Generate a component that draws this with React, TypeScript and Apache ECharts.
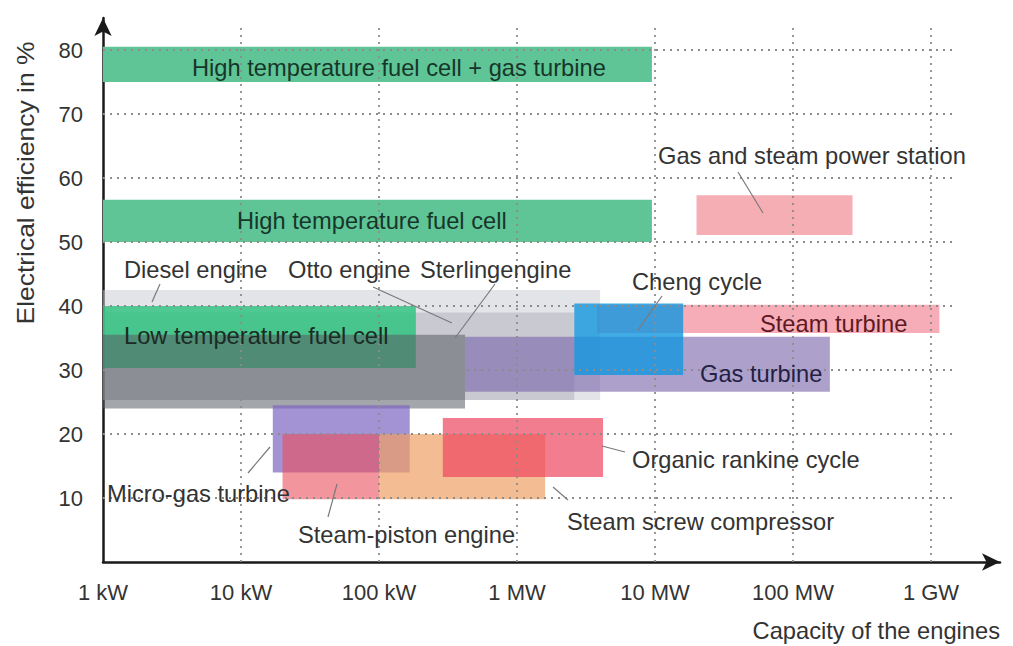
import React, { useEffect, useRef } from "react";
import * as echarts from "echarts";

// Technologies (drawing order, bottom to top)
const techNames = [
  "Diesel engine",
  "Otto engine",
  "Low temperature fuel cell",
  "Sterling engine",
  "Gas turbine",
  "Steam turbine",
  "Cheng cycle",
  "High temperature fuel cell + gas turbine",
  "High temperature fuel cell",
  "Gas and steam power station",
  "Micro-gas turbine",
  "Steam-piston engine",
  "Steam screw compressor",
  "Organic rankine cycle",
];
// capacity range in kW
const capMinKW = [1, 1, 1, 1, 420, 3800, 2600, 1, 1, 20000, 17, 20, 100, 290];
const capMaxKW = [4000, 2600, 185, 420, 185000, 1150000, 16000, 9500, 9500, 270000, 167, 100, 1600, 4200];
// electrical efficiency range in %
const effMin = [25.3, 25.3, 30.3, 24, 26.6, 35.8, 29.2, 75, 50, 51.1, 14, 9.8, 9.8, 13.3];
const effMax = [42.5, 39, 40, 35.5, 35.2, 40.2, 40.4, 80.5, 56.6, 57.3, 24.5, 20, 20, 22.5];

const fillColors = [
  "rgba(200,202,210,0.5)",
  "rgba(165,167,176,0.42)",
  "rgba(40,194,124,0.8)",
  "rgba(88,92,100,0.55)",
  "rgba(118,98,170,0.6)",
  "rgba(240,118,135,0.6)",
  "rgba(18,150,222,0.8)",
  "#5fc597",
  "#5fc597",
  "rgba(240,125,135,0.62)",
  "rgba(128,104,196,0.72)",
  "rgba(235,78,90,0.6)",
  "rgba(240,160,100,0.7)",
  "rgba(236,70,96,0.7)",
];

const xTickLabels: Record<number, string> = {
  0: "1 kW",
  1: "10 kW",
  2: "100 kW",
  3: "1 MW",
  4: "10 MW",
  5: "100 MW",
  6: "1 GW",
};
const gridCapKW = [10, 100, 1000, 10000, 100000, 1000000];
const gridEff = [10, 20, 30, 40, 50, 60, 70, 80];

const FONT = "'Liberation Sans', Arial, Helvetica, sans-serif";

export default function App() {
  const ref = useRef<HTMLDivElement>(null);
  useEffect(() => {
    if (!ref.current) return;
    const chart = echarts.init(ref.current, undefined, { renderer: "svg" });
    const data = techNames.map((n, i) => ({
      name: n,
      value: [capMinKW[i], capMaxKW[i], effMin[i], effMax[i]],
    }));

    const txt = (text: string, x: number, y: number, fill = "#333333", extra: any = {}) => ({
      type: "text",
      x,
      y,
      z: 100,
      scaleX: 1.03,
      silent: true,
      style: {
        text,
        fill,
        fontSize: 23,
        fontFamily: FONT,
        verticalAlign: "middle",
        align: "left",
        ...extra,
      },
    });
    const lead = (x1: number, y1: number, x2: number, y2: number) => ({
      type: "line",
      z: 99,
      silent: true,
      shape: { x1, y1, x2, y2 },
      style: { stroke: "#7a7a7a", lineWidth: 1.2 },
    });

    const hLines = gridEff.map((v) => [{ coord: [1, v] }, { coord: [1500000, v] }]);
    const vLines = gridCapKW.map((v) => [{ coord: [v, 0] }, { coord: [v, 84] }]);

    chart.setOption({
      animation: false,
      backgroundColor: "#ffffff",
      textStyle: { fontFamily: FONT },
      grid: { left: 103, right: 13, top: 18, bottom: 84, outerBoundsMode: "none" },
      xAxis: {
        type: "log",
        logBase: 10,
        min: 1,
        max: 3162277.66,
        axisLine: {
          show: true,
          lineStyle: { color: "#1a1a1a", width: 2.5 },
          symbol: ["none", "arrow"],
          symbolSize: [13, 18],
        },
        axisTick: { show: false },
        splitLine: { show: false },
        minorSplitLine: { show: false },
        axisLabel: {
          fontSize: 22,
          color: "#333333",
          fontFamily: FONT,
          margin: 19,
          showMaxLabel: true,
          formatter: (v: number) => {
            const e = Math.log10(v);
            const r = Math.round(e);
            if (Math.abs(e - r) > 1e-6) return "";
            return xTickLabels[r] ?? "";
          },
        },
      },
      yAxis: {
        type: "value",
        min: 0,
        max: 85,
        interval: 10,
        axisLine: {
          show: true,
          lineStyle: { color: "#1a1a1a", width: 2.5 },
          symbol: ["none", "arrow"],
          symbolSize: [13, 18],
        },
        axisTick: { show: false },
        splitLine: { show: false },
        axisLabel: {
          fontSize: 22,
          color: "#333333",
          fontFamily: FONT,
          margin: 20,
          formatter: (v: number) => (v === 0 || v % 10 !== 0 ? "" : String(v)),
        },
      },
      series: [
        {
          type: "custom",
          name: "ranges",
          z: 2,
          clip: false,
          encode: { x: [0, 1], y: [2, 3] },
          data,
          renderItem: (params: any, api: any) => {
            const p0 = api.coord([api.value(0), api.value(3)]);
            const p1 = api.coord([api.value(1), api.value(2)]);
            return {
              type: "rect",
              shape: { x: p0[0], y: p0[1], width: p1[0] - p0[0], height: p1[1] - p0[1] },
              style: { fill: fillColors[params.dataIndex] },
            };
          },
        },
        {
          type: "line",
          name: "grid",
          data: [],
          z: 10,
          silent: true,
          markLine: {
            silent: true,
            symbol: "none",
            label: { show: false },
            lineStyle: { type: [2, 5], color: "#8c8c8c", width: 1.8 },
            data: [...hLines, ...vLines],
          },
        },
      ],
      graphic: [
        txt("High temperature fuel cell + gas turbine", 192, 68, "#17362a"),
        txt("High temperature fuel cell", 237, 221, "#17362a"),
        txt("Diesel engine", 124, 270),
        txt("Otto engine", 288, 270),
        txt("Sterlingengine", 420, 270),
        txt("Low temperature fuel cell", 124, 336, "#1b2b24"),
        txt("Cheng cycle", 632, 282),
        txt("Steam turbine", 760, 324, "#5e1922"),
        txt("Gas turbine", 700, 374, "#242043"),
        txt("Gas and steam power station", 658, 156),
        txt("Organic rankine cycle", 632, 460),
        txt("Micro-gas turbine", 107, 494),
        txt("Steam-piston engine", 298, 535),
        txt("Steam screw compressor", 567, 522),
        txt("Capacity of the engines", 1000, 631, "#333333", { align: "right" }),
        {
          type: "text",
          x: 26,
          y: 183,
          rotation: Math.PI / 2,
          scaleX: 1.15,
          z: 100,
          silent: true,
          style: {
            text: "Electrical efficiency in %",
            fill: "#333333",
            fontSize: 23,
            fontFamily: FONT,
            align: "center",
            verticalAlign: "middle",
          },
        },
        lead(160, 284, 152, 302),
        lead(373, 287, 452, 323),
        lead(495, 284, 455, 338),
        lead(662, 296, 638, 330),
        lead(738, 172, 763, 213),
        lead(602, 446, 625, 452),
        lead(248, 473, 270, 447),
        lead(328, 517, 337, 484),
        lead(553, 487, 568, 500),
      ],
    });
    return () => chart.dispose();
  }, []);
  return (
    <div
      ref={ref}
      style={{ position: "fixed", left: 0, top: 0, width: 1013, height: 646, background: "#fff" }}
    />
  );
}
